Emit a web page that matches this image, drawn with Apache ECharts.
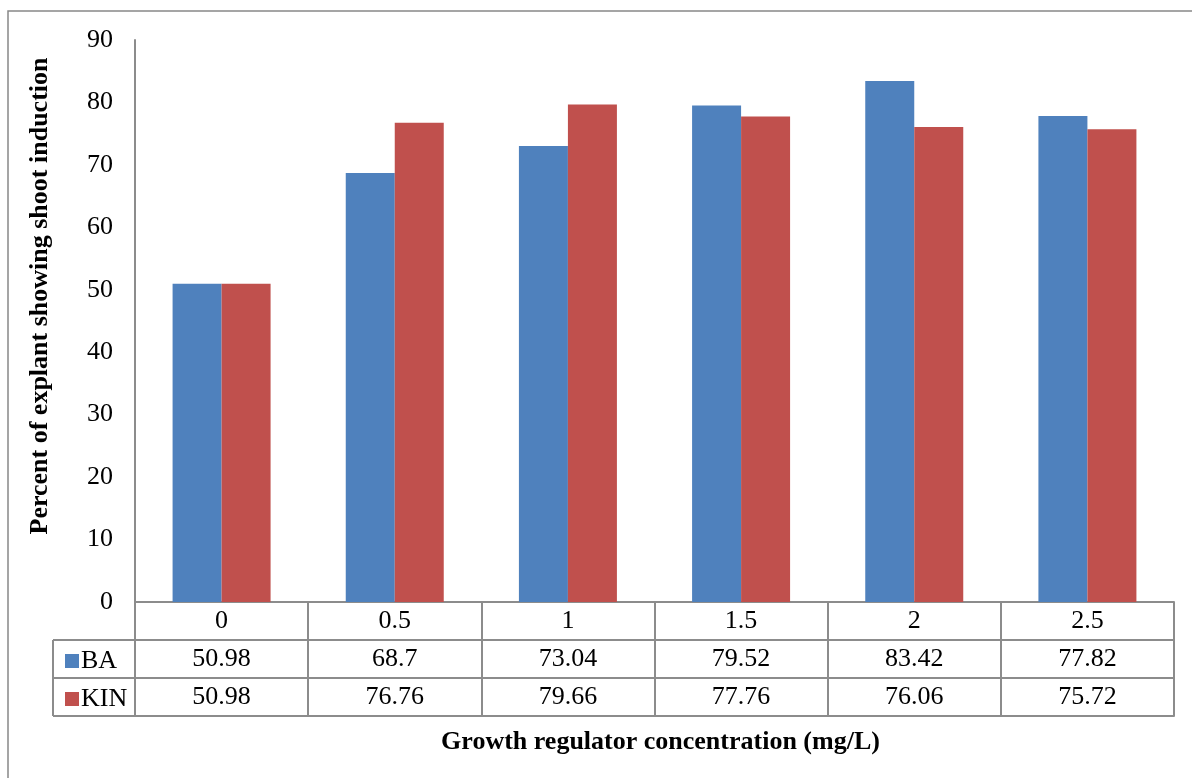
<!DOCTYPE html>
<html>
<head>
<meta charset="utf-8">
<title>Shoot induction</title>
<script src="https://cdn.jsdelivr.net/npm/echarts@6/dist/echarts.min.js"></script>
<style>
  html, body { margin: 0; padding: 0; background: #ffffff; }
  #chart { width: 1192px; height: 778px; }
</style>
</head>
<body>
<div id="chart"></div>
<script>
// Growth regulator concentrations (mg/L)
const categories = ['0', '0.5', '1', '1.5', '2', '2.5'];
// Percent of explants showing shoot induction
const baValues = [50.98, 68.7, 73.04, 79.52, 83.42, 77.82];
const kinValues = [50.98, 76.76, 79.66, 77.76, 76.06, 75.72];
const yTicks = { min: 0, max: 90, interval: 10 };

const FONT = '"Liberation Serif", "Times New Roman", serif';
const FS = 26;
const BLUE = '#4F81BD';
const RED = '#C0504D';
const LINE = '#8c8c8c';
const ROW = 38;

const chart = echarts.init(document.getElementById('chart'), null, { renderer: 'canvas' });

// One category axis per table row: line on top, boundary ticks as cell dividers
function tableAxis(offset, formatter, showTicks) {
  return {
    type: 'category',
    data: categories,
    position: 'bottom',
    offset: offset,
    gridIndex: 0,
    boundaryGap: true,
    axisLine: { show: true, lineStyle: { color: LINE, width: 2 } },
    axisTick: { show: showTicks, inside: false, length: ROW, interval: 0, lineStyle: { color: LINE, width: 2 } },
    axisLabel: {
      show: !!formatter, interval: 0, margin: 6,
      fontFamily: FONT, fontSize: FS, color: '#000',
      formatter: formatter || undefined
    },
    splitLine: { show: false }
  };
}

const option = {
  animation: false,
  backgroundColor: '#ffffff',
  textStyle: { fontFamily: FONT },
  grid: { left: 135, right: 18, top: 40, bottom: 176, containLabel: false },
  legend: {
    orient: 'vertical',
    left: 60,
    top: 643,
    itemWidth: 14,
    itemHeight: 14,
    itemGap: 12,
    icon: 'rect',
    selectedMode: false,
    textStyle: { fontFamily: FONT, fontSize: FS, color: '#000', padding: [0, 0, 0, -3] },
    data: ['BA', 'KIN']
  },
  xAxis: [
    tableAxis(0, (v) => v, true),
    tableAxis(ROW, (v, i) => String(baValues[i]), true),
    Object.assign(tableAxis(ROW * 2, (v, i) => String(kinValues[i]), true), {
      name: 'Growth regulator concentration (mg/L)',
      nameLocation: 'middle',
      nameGap: 51,
      nameTextStyle: { fontFamily: FONT, fontSize: FS, fontWeight: 'bold', color: '#000', padding: [0, 0, 0, 12] }
    }),
    tableAxis(ROW * 3, null, false)
  ],
  yAxis: {
    type: 'value',
    min: yTicks.min,
    max: yTicks.max,
    interval: yTicks.interval,
    name: 'Percent of explant showing shoot induction',
    nameLocation: 'middle',
    nameRotate: 90,
    nameGap: 82,
    nameTextStyle: { fontFamily: FONT, fontSize: FS, fontWeight: 'bold', color: '#000', padding: [0, 0, 0, 50] },
    axisLine: { show: true, lineStyle: { color: LINE, width: 2 } },
    axisTick: { show: false },
    axisLabel: { fontFamily: FONT, fontSize: FS, color: '#000', margin: 22 },
    splitLine: { show: false }
  },
  series: [
    {
      name: 'BA', type: 'bar', xAxisIndex: 0, data: baValues,
      barWidth: 49, barGap: '0%',
      itemStyle: { color: BLUE }
    },
    {
      name: 'KIN', type: 'bar', xAxisIndex: 0, data: kinValues,
      barWidth: 49, barGap: '0%',
      itemStyle: { color: RED }
    }
  ]
};

chart.setOption(option);

// Outer frame and the row-header cells left of the plot, placed from the value axis zero
function drawFrame() {
  const yZero = chart.convertToPixel({ yAxisIndex: 0 }, 0);
  const left = 135;
  const tableLeft = 53;
  const r1 = yZero + ROW, r2 = yZero + ROW * 2, r3 = yZero + ROW * 3;
  const ls = { stroke: LINE, lineWidth: 2 };
  chart.setOption({
    graphic: [
      { type: 'rect', silent: true, shape: { x: 8, y: 11, width: 1400, height: 1000 },
        style: { fill: 'none', stroke: '#888888', lineWidth: 1.5 } },
      { type: 'line', silent: true, shape: { x1: tableLeft, y1: r1, x2: left, y2: r1 }, style: ls },
      { type: 'line', silent: true, shape: { x1: tableLeft, y1: r2, x2: left, y2: r2 }, style: ls },
      { type: 'line', silent: true, shape: { x1: tableLeft, y1: r3, x2: left, y2: r3 }, style: ls },
      { type: 'line', silent: true, shape: { x1: tableLeft, y1: r1, x2: tableLeft, y2: r3 }, style: ls }
    ]
  });
}
drawFrame();
</script>
</body>
</html>
